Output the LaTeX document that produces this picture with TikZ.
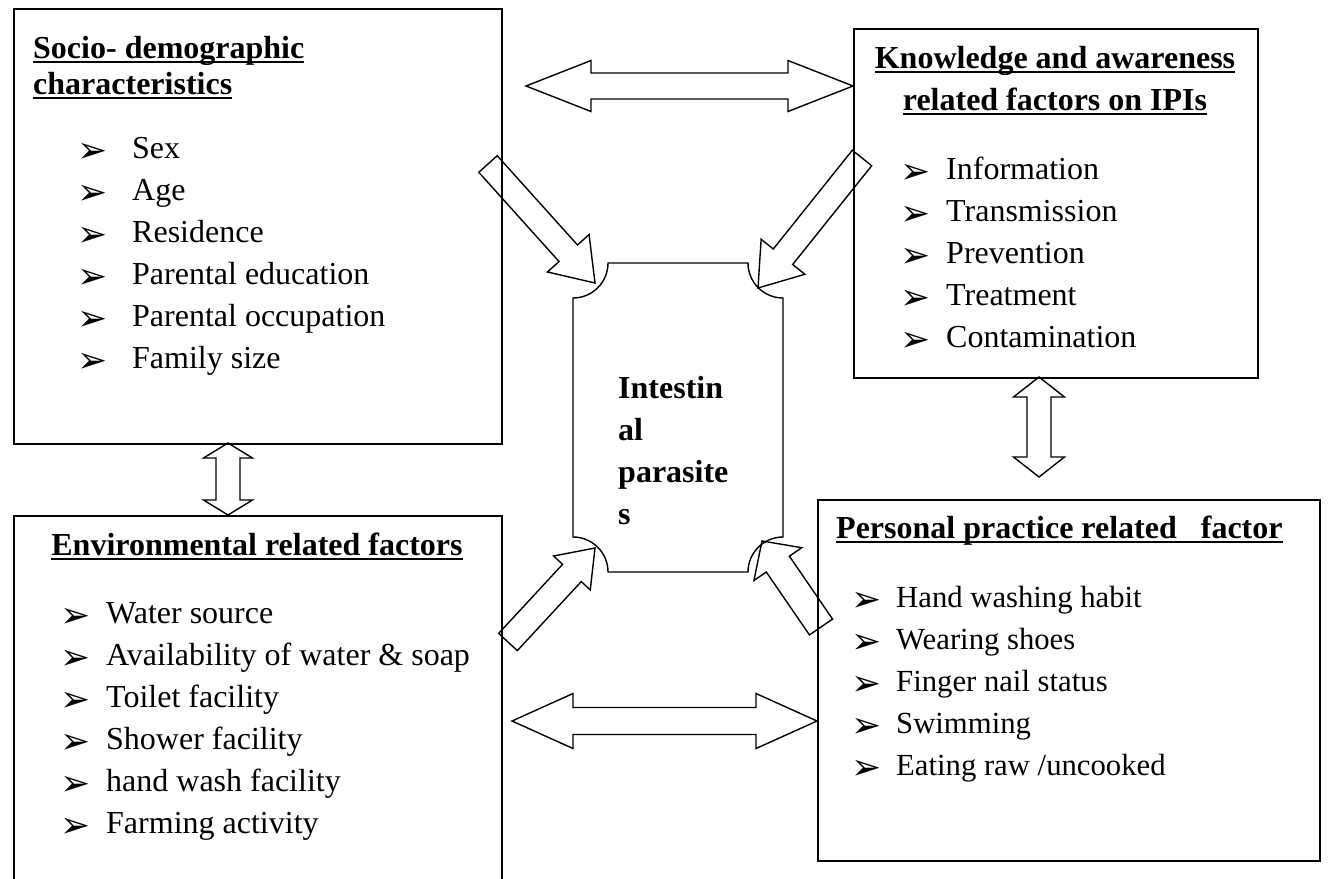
\documentclass[tikz,border=0pt]{standalone}
\usepackage{fontspec}
\setmainfont{Liberation Serif}
\newfontfamily\dejavu{DejaVu Sans}
\usetikzlibrary{calc}

% bullet, list item and underlined heading
\newcommand{\bul}{\raisebox{-4pt}{\dejavu\fontsize{36}{36}\selectfont ➢}}
\newcommand{\itm}[2][46]{\makebox[#1pt][l]{\bul}#2}
\newcommand{\hd}[1]{\setbox0\hbox{\bfseries #1}\rlap{\rule[-5pt]{\wd0}{2.5pt}}\box0}

% block arrows: from, to, shaft half width, head half width, head length
\newcommand{\blockone}[5]{%
  \coordinate (hb) at ($(#2)!#5pt!(#1)$);
  \draw[blockarrow] ($(#1)!#3pt!90:(#2)$) -- ($(hb)!#3pt!90:(#2)$) -- ($(hb)!#4pt!90:(#2)$) -- (#2)
    -- ($(hb)!#4pt!-90:(#2)$) -- ($(hb)!#3pt!-90:(#2)$) -- ($(#1)!#3pt!-90:(#2)$) -- cycle;}
\newcommand{\blocktwo}[5]{%
  \coordinate (ha) at ($(#1)!#5pt!(#2)$);
  \coordinate (hb) at ($(#2)!#5pt!(#1)$);
  \draw[blockarrow] (#1) -- ($(ha)!#4pt!90:(#2)$) -- ($(ha)!#3pt!90:(#2)$) -- ($(hb)!#3pt!90:(#2)$)
    -- ($(hb)!#4pt!90:(#2)$) -- (#2) -- ($(hb)!#4pt!-90:(#2)$) -- ($(hb)!#3pt!-90:(#2)$)
    -- ($(ha)!#3pt!-90:(#2)$) -- ($(ha)!#4pt!-90:(#2)$) -- cycle;}

\begin{document}
\begin{tikzpicture}[x=1pt,y=-1pt,
  box/.style={draw, line width=1.8pt, inner sep=0pt, anchor=north west},
  blockarrow/.style={draw, line width=1.4pt, line join=miter},
  txt/.style={anchor=base west, inner sep=0pt, font=\fontsize{32}{42}\selectfont},
  smalltxt/.style={txt, font=\fontsize{30.7}{42}\selectfont},
  bigtxt/.style={txt, font=\fontsize{32}{42}\selectfont\bfseries}]
  \useasboundingbox[fill=white] (0,0) rectangle (1340,878);
  \clip (0,0) rectangle (1340,878);

  % boxes
  \node[box, minimum width=488pt, minimum height=435pt] (soc) at (13,8) {};
  \node[box, minimum width=404pt, minimum height=349pt] (know) at (853,28) {};
  \node[box, minimum width=488pt, minimum height=380pt] (env) at (13,515) {};
  \node[box, minimum width=502pt, minimum height=361pt] (pers) at (817,499) {};

  % socio-demographic
  \node[txt] (soc-h1) at (33,58) {\hd{Socio- demographic}};
  \node[txt] (soc-h2) at (33,94) {\hd{characteristics}};
  \node[txt] (soc-1) at (77,158) {\itm[55]{Sex}};
  \node[txt] (soc-2) at (77,200) {\itm[55]{Age}};
  \node[txt] (soc-3) at (77,242) {\itm[55]{Residence}};
  \node[txt] (soc-4) at (77,284) {\itm[55]{Parental education}};
  \node[txt] (soc-5) at (77,326) {\itm[55]{Parental occupation}};
  \node[txt] (soc-6) at (77,368) {\itm[55]{Family size}};

  % knowledge
  \node[txt, anchor=base] (know-h1) at (1055,68) {\hd{Knowledge and awareness}};
  \node[txt, anchor=base] (know-h2) at (1055,110) {\hd{related factors on IPIs}};
  \node[txt] (know-1) at (900,179) {\itm{Information}};
  \node[txt] (know-2) at (900,221) {\itm{Transmission}};
  \node[txt] (know-3) at (900,263) {\itm{Prevention}};
  \node[txt] (know-4) at (900,305) {\itm{Treatment}};
  \node[txt] (know-5) at (900,347) {\itm{Contamination}};

  % environmental
  \node[txt, anchor=base] (env-h) at (257,555) {\hd{Environmental related factors}};
  \node[txt] (env-1) at (60,623) {\itm{Water source}};
  \node[txt] (env-2) at (60,665) {\itm{Availability of water \& soap}};
  \node[txt] (env-3) at (60,707) {\itm{Toilet facility}};
  \node[txt] (env-4) at (60,749) {\itm{Shower facility}};
  \node[txt] (env-5) at (60,791) {\itm{hand wash facility}};
  \node[txt] (env-6) at (60,833) {\itm{Farming activity}};

  % personal practice
  \node[txt] (pers-h) at (836,538) {\hd{Personal practice related\ \ \ factor}};
  \node[smalltxt] (pers-1) at (851,607) {\itm[45]{Hand washing habit}};
  \node[smalltxt] (pers-2) at (851,649) {\itm[45]{Wearing shoes}};
  \node[smalltxt] (pers-3) at (851,691) {\itm[45]{Finger nail status}};
  \node[smalltxt] (pers-4) at (851,733) {\itm[45]{Swimming}};
  \node[smalltxt] (pers-5) at (851,775) {\itm[45]{Eating raw /uncooked}};

  % intestinal parasites (plaque)
  \draw[line width=1.4pt] (608,263) -- (748,263) arc[start angle=180, end angle=270, radius=35pt]
    -- (783,537) arc[start angle=90, end angle=180, radius=35pt]
    -- (608,572) arc[start angle=0, end angle=90, radius=35pt]
    -- (573,298) arc[start angle=270, end angle=360, radius=35pt] -- cycle;
  \node[bigtxt] (ip-1) at (618,398) {Intestin};
  \node[bigtxt] (ip-2) at (618,440) {al};
  \node[bigtxt] (ip-3) at (618,482) {parasite};
  \node[bigtxt] (ip-4) at (618,524) {s};

  % arrow ends
  \coordinate (top-l) at (526,86);
  \coordinate (top-r) at (know.west |- top-l);
  \coordinate (bot-l) at (512,721);
  \coordinate (bot-r) at (pers.west |- bot-l);
  \coordinate (lv-t) at (228,443);
  \coordinate (lv-b) at (env.north -| lv-t);
  \coordinate (rv-t) at (1039,377);
  \coordinate (rv-b) at (1039,477);
  \coordinate (d1-a) at (488,164);
  \coordinate (d1-b) at (595,283);
  \coordinate (d2-a) at (862,158);
  \coordinate (d2-b) at (758,288);
  \coordinate (d3-a) at (508,642);
  \coordinate (d3-b) at (595,548);
  \coordinate (d4-a) at (821,627);
  \coordinate (d4-b) at (762,541);

  % block arrows
  \blocktwo{top-l}{top-r}{13}{25.5}{65}
  \blocktwo{bot-l}{bot-r}{13.5}{27.5}{61}
  \blocktwo{lv-t}{lv-b}{12}{24.5}{15}
  \blocktwo{rv-t}{rv-b}{12}{25.5}{20}
  \blockone{d1-a}{d1-b}{12.4}{28}{40}
  \blockone{d2-a}{d2-b}{12.4}{28}{40}
  \blockone{d3-a}{d3-b}{12.7}{25}{34}
  \blockone{d4-a}{d4-b}{14}{29}{28}
\end{tikzpicture}
\end{document}
